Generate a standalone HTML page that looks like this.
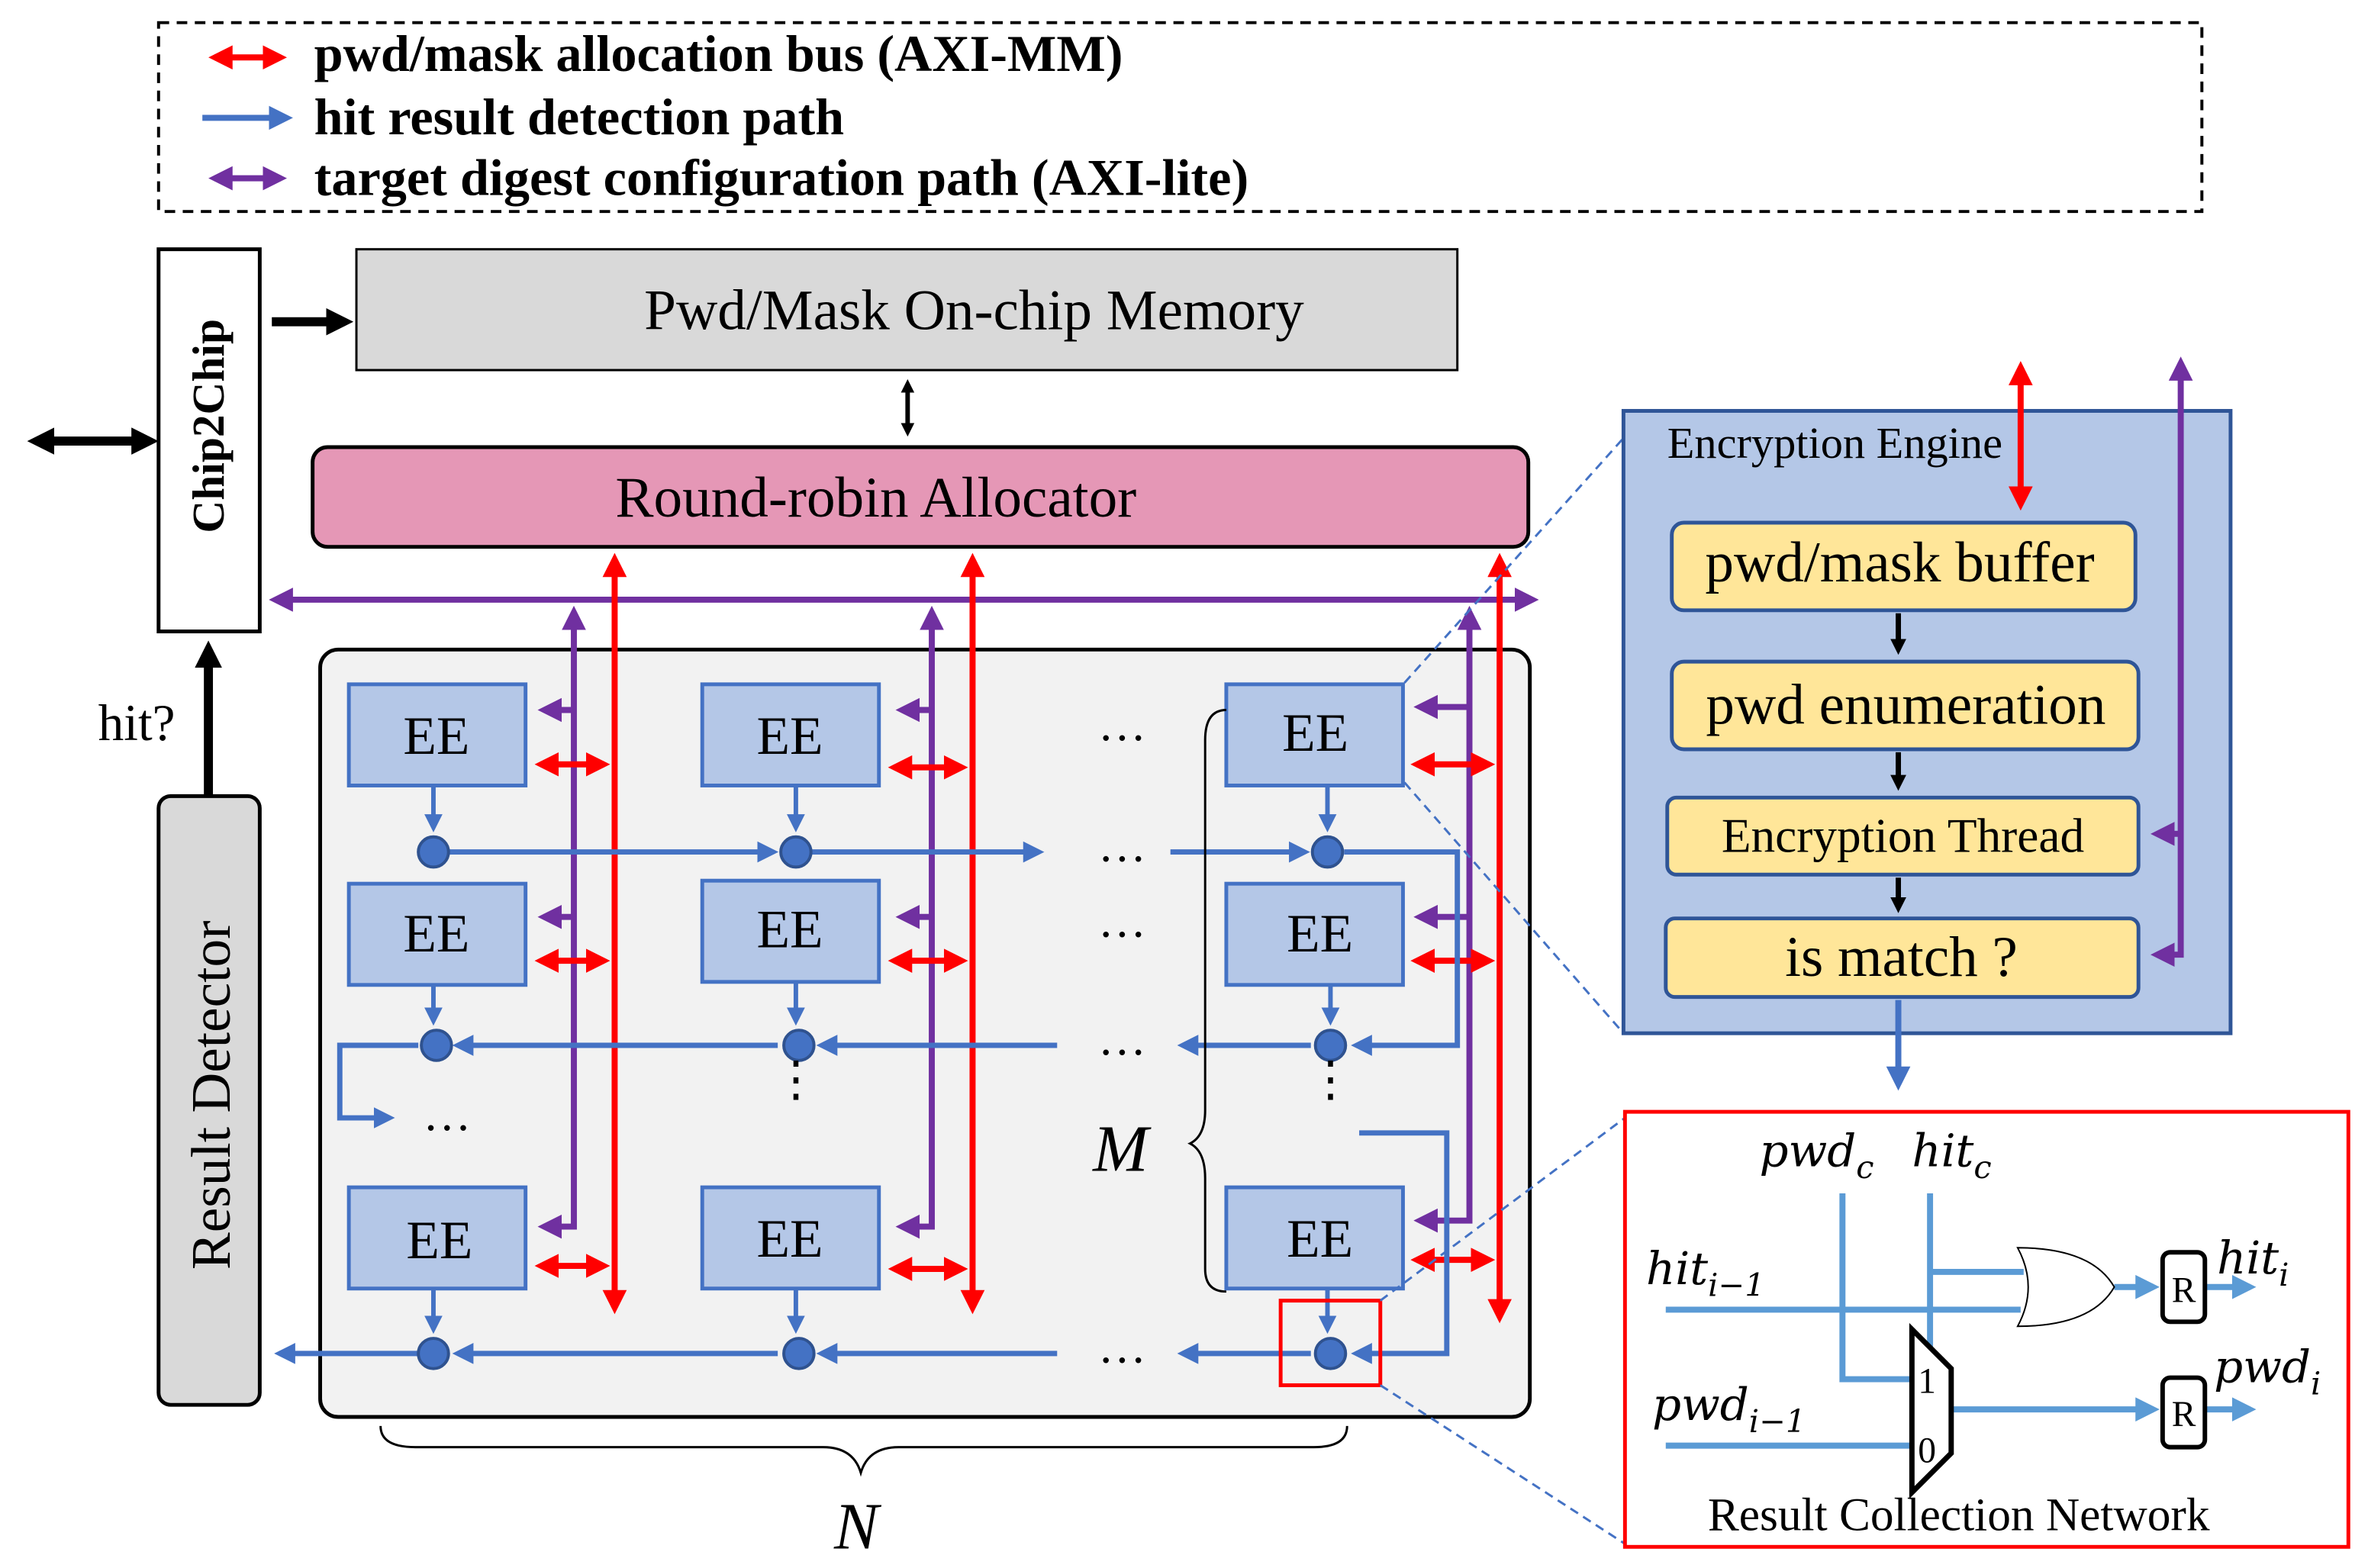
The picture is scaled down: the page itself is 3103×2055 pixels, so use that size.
<!DOCTYPE html>
<html><head><meta charset="utf-8"><style>html,body{margin:0;padding:0;background:#fff}svg{display:block}</style></head><body>
<svg width="3103" height="2055" viewBox="0 0 1568 1038" preserveAspectRatio="none" xmlns="http://www.w3.org/2000/svg" font-family="Liberation Serif, serif">
<defs>
<marker id="r" markerWidth="4" markerHeight="4" refX="3" refY="2" orient="auto-start-reverse" markerUnits="strokeWidth"><path d="M0,0L4,2L0,4z" fill="#f00"/></marker>
<marker id="b" markerWidth="4" markerHeight="4" refX="3" refY="2" orient="auto-start-reverse" markerUnits="strokeWidth"><path d="M0,0L4,2L0,4z" fill="#4472c4"/></marker>
<marker id="lb" markerWidth="4" markerHeight="4" refX="3" refY="2" orient="auto-start-reverse" markerUnits="strokeWidth"><path d="M0,0L4,2L0,4z" fill="#5b9bd5"/></marker>
<marker id="p" markerWidth="4" markerHeight="4" refX="3" refY="2" orient="auto-start-reverse" markerUnits="strokeWidth"><path d="M0,0L4,2L0,4z" fill="#7030a0"/></marker>
<marker id="k" markerWidth="3" markerHeight="3" refX="2" refY="1.5" orient="auto-start-reverse" markerUnits="strokeWidth"><path d="M0,0L3,1.5L0,3z" fill="#000"/></marker>
</defs>
<rect x="105" y="15" width="1353" height="125" fill="none" stroke="#000" stroke-width="2" stroke-dasharray="7,5"/>
<line x1="142" y1="38" x2="186" y2="38" stroke="#f00" stroke-width="4" marker-start="url(#r)" marker-end="url(#r)"/>
<line x1="134" y1="78" x2="190" y2="78" stroke="#4472c4" stroke-width="4" marker-end="url(#b)"/>
<line x1="142" y1="118" x2="186" y2="118" stroke="#7030a0" stroke-width="4" marker-start="url(#p)" marker-end="url(#p)"/>
<g font-weight="bold" font-size="34.5">
<text x="208" y="47">pwd/mask allocation bus (AXI-MM)</text>
<text x="208" y="89">hit result detection path</text>
<text x="208" y="129">target digest configuration path (AXI-lite)</text>
</g>
<rect x="105" y="165" width="67" height="253" fill="#fff" stroke="#000" stroke-width="2.5"/>
<text transform="translate(148,282) rotate(-90)" text-anchor="middle" font-size="30" font-weight="bold">Chip2Chip</text>
<line x1="24" y1="292" x2="99" y2="292" stroke="#000" stroke-width="6" marker-start="url(#k)" marker-end="url(#k)"/>
<line x1="180" y1="213" x2="228" y2="213" stroke="#000" stroke-width="6" marker-end="url(#k)"/>
<rect x="236" y="165" width="729" height="80" fill="#d9d9d9" stroke="#000" stroke-width="1.5"/>
<text x="645" y="218" text-anchor="middle" font-size="38">Pwd/Mask On-chip Memory</text>
<line x1="601" y1="254" x2="601" y2="286" stroke="#000" stroke-width="3" marker-start="url(#k)" marker-end="url(#k)"/>
<rect x="207" y="296" width="805" height="66" rx="10" fill="#e597b6" stroke="#000" stroke-width="2.5"/>
<text x="580" y="342" text-anchor="middle" font-size="38">Round-robin Allocator</text>
<rect x="105" y="527" width="67" height="403" rx="8" fill="#d9d9d9" stroke="#000" stroke-width="2.5"/>
<text transform="translate(152,725) rotate(-90)" text-anchor="middle" font-size="37">Result Detector</text>
<text x="65" y="490" font-size="34">hit?</text>
<line x1="138" y1="527" x2="138" y2="430" stroke="#000" stroke-width="6" marker-end="url(#k)"/>
<rect x="212" y="430" width="801" height="508" rx="12" fill="#f2f2f2" stroke="#000" stroke-width="2.5"/>
<line x1="182" y1="397" x2="1015" y2="397" stroke="#7030a0" stroke-width="4" marker-start="url(#p)" marker-end="url(#p)"/>
<g stroke="#7030a0" stroke-width="4" fill="none">
<path d="M380,405V812H360" marker-start="url(#p)" marker-end="url(#p)"/>
<path d="M617,405V812H597" marker-start="url(#p)" marker-end="url(#p)"/>
<path d="M973,405V808H940" marker-start="url(#p)" marker-end="url(#p)"/>
<line x1="380" y1="470" x2="360" y2="470" marker-end="url(#p)"/>
<line x1="380" y1="607" x2="360" y2="607" marker-end="url(#p)"/>
<line x1="617" y1="470" x2="597" y2="470" marker-end="url(#p)"/>
<line x1="617" y1="607" x2="597" y2="607" marker-end="url(#p)"/>
<line x1="973" y1="468" x2="940" y2="468" marker-end="url(#p)"/>
<line x1="973" y1="607" x2="940" y2="607" marker-end="url(#p)"/>
</g>
<g stroke="#f00" stroke-width="4" fill="none">
<line x1="407" y1="370" x2="407" y2="866" marker-start="url(#r)" marker-end="url(#r)"/>
<line x1="644" y1="370" x2="644" y2="866" marker-start="url(#r)" marker-end="url(#r)"/>
<line x1="993" y1="370" x2="993" y2="872" marker-start="url(#r)" marker-end="url(#r)"/>
<g marker-start="url(#r)" marker-end="url(#r)">
<line x1="358" y1="506" x2="400" y2="506"/><line x1="358" y1="636" x2="400" y2="636"/><line x1="358" y1="838" x2="400" y2="838"/>
<line x1="592" y1="508" x2="637" y2="508"/><line x1="592" y1="636" x2="637" y2="636"/><line x1="592" y1="840" x2="637" y2="840"/>
<line x1="938" y1="506" x2="986" y2="506"/><line x1="938" y1="636" x2="986" y2="636"/><line x1="938" y1="834" x2="986" y2="834"/>
</g></g>
<g stroke="#4472c4" stroke-width="3.5" fill="none">
<path d="M287,564H512" marker-end="url(#b)"/><path d="M527,564H688" marker-end="url(#b)"/>
<path d="M775,564H864" marker-end="url(#b)"/>
<path d="M890,564H965V692H898" marker-end="url(#b)"/>
<path d="M868,692H783" marker-end="url(#b)"/><path d="M700,692H544" marker-end="url(#b)"/><path d="M515,692H303" marker-end="url(#b)"/>
<path d="M277,692H225V740H258" marker-end="url(#b)"/>
<path d="M900,750H958V896H898" marker-end="url(#b)"/>
<path d="M868,896H783" marker-end="url(#b)"/><path d="M700,896H544" marker-end="url(#b)"/><path d="M515,896H303" marker-end="url(#b)"/>
<path d="M277,896H185" marker-end="url(#b)"/>
<g stroke-width="3">
<line x1="287" y1="520" x2="287" y2="548" marker-end="url(#b)"/>
<line x1="527" y1="520" x2="527" y2="548" marker-end="url(#b)"/>
<line x1="879" y1="520" x2="879" y2="548" marker-end="url(#b)"/>
<line x1="287" y1="652" x2="287" y2="676" marker-end="url(#b)"/>
<line x1="527" y1="650" x2="527" y2="676" marker-end="url(#b)"/>
<line x1="881" y1="652" x2="881" y2="676" marker-end="url(#b)"/>
<line x1="287" y1="853" x2="287" y2="880" marker-end="url(#b)"/>
<line x1="527" y1="853" x2="527" y2="880" marker-end="url(#b)"/>
<line x1="879" y1="853" x2="879" y2="880" marker-end="url(#b)"/>
</g>
</g>
<g fill="#4472c4" stroke="#2f528f" stroke-width="2">
<circle cx="287" cy="564" r="10"/><circle cx="527" cy="564" r="10"/><circle cx="879" cy="564" r="10"/>
<circle cx="289" cy="692" r="10"/><circle cx="529" cy="692" r="10"/><circle cx="881" cy="692" r="10"/>
<circle cx="287" cy="896" r="10"/><circle cx="529" cy="896" r="10"/><circle cx="881" cy="896" r="10"/>
</g>
<g fill="#b4c7e7" stroke="#4472c4" stroke-width="2.5">
<rect x="231" y="453" width="117" height="67"/><rect x="465" y="453" width="117" height="67"/><rect x="812" y="453" width="117" height="67"/>
<rect x="231" y="585" width="117" height="67"/><rect x="465" y="583" width="117" height="67"/><rect x="812" y="585" width="117" height="67"/>
<rect x="231" y="786" width="117" height="67"/><rect x="465" y="786" width="117" height="67"/><rect x="812" y="786" width="117" height="67"/>
</g>
<g font-size="36" text-anchor="middle">
<text x="289" y="499">EE</text><text x="523" y="499">EE</text><text x="871" y="497">EE</text>
<text x="289" y="630">EE</text><text x="523" y="627">EE</text><text x="874" y="630">EE</text>
<text x="291" y="833">EE</text><text x="523" y="832">EE</text><text x="874" y="832">EE</text>
</g>
<g font-size="32" text-anchor="middle">
<text x="743" y="490">…</text><text x="743" y="570">…</text><text x="743" y="620">…</text><text x="743" y="698">…</text>
<text x="296" y="748">…</text><text x="743" y="902">…</text>
<text x="527" y="725">⋮</text><text x="881" y="725">⋮</text>
</g>
<path d="M812,470Q798,470 798,490V735Q798,752 788,757Q798,762 798,780V840Q798,855 812,855" fill="none" stroke="#000" stroke-width="1.5"/>
<text x="742" y="775" text-anchor="middle" font-size="44" font-style="italic">M</text>
<path d="M252,944Q252,958 275,958H545Q565,958 570,975Q575,958 595,958H870Q892,958 892,944" fill="none" stroke="#000" stroke-width="1.5"/>
<text x="567" y="1025" text-anchor="middle" font-size="44" font-style="italic">N</text>
<rect x="848" y="861" width="66" height="56" fill="none" stroke="#f00" stroke-width="2.5"/>
<g stroke="#4472c4" stroke-width="1.5" stroke-dasharray="6,4">
<line x1="930" y1="452" x2="1075" y2="290"/><line x1="930" y1="518" x2="1075" y2="684"/>
<line x1="914" y1="861" x2="1076" y2="740"/><line x1="914" y1="917" x2="1076" y2="1022"/>
</g>
<rect x="1075" y="272" width="402" height="412" fill="#b4c7e7" stroke="#2f5597" stroke-width="2.5"/>
<text x="1104" y="303" font-size="29.5">Encryption Engine</text>
<g fill="#ffe699" stroke="#2f5597" stroke-width="2.5">
<rect x="1107" y="346" width="307" height="58" rx="8"/><rect x="1107" y="438" width="309" height="58" rx="8"/>
<rect x="1104" y="528" width="312" height="51" rx="6"/><rect x="1103" y="608" width="313" height="52" rx="6"/>
</g>
<g text-anchor="middle">
<text x="1258" y="385" font-size="38">pwd/mask buffer</text>
<text x="1262" y="479" font-size="38">pwd enumeration</text>
<text x="1260" y="564" font-size="32">Encryption Thread</text>
<text x="1259" y="646" font-size="38">is match ?</text>
</g>
<g stroke="#000" stroke-width="3.5">
<line x1="1257" y1="406" x2="1257" y2="430" marker-end="url(#k)"/>
<line x1="1257" y1="498" x2="1257" y2="520" marker-end="url(#k)"/>
<line x1="1257" y1="581" x2="1257" y2="601" marker-end="url(#k)"/>
</g>
<line x1="1338" y1="243" x2="1338" y2="334" stroke="#f00" stroke-width="4" marker-start="url(#r)" marker-end="url(#r)"/>
<g stroke="#7030a0" stroke-width="4" fill="none">
<path d="M1444,240V632H1428" marker-start="url(#p)" marker-end="url(#p)"/>
<line x1="1444" y1="552" x2="1428" y2="552" marker-end="url(#p)"/>
</g>
<line x1="1257" y1="662" x2="1257" y2="718" stroke="#4472c4" stroke-width="4" marker-end="url(#b)"/>
<rect x="1076" y="736" width="479" height="288" fill="#fff" stroke="#f00" stroke-width="2.5"/>
<g font-family="DejaVu Serif, serif" font-style="italic" font-size="30">
<text x="1165" y="772">pwd<tspan font-size="21" dy="8">c</tspan></text>
<text x="1266" y="772">hit<tspan font-size="21" dy="8">c</tspan></text>
<text x="1090" y="850">hit<tspan font-size="21" dy="8">i−1</tspan></text>
<text x="1094" y="940">pwd<tspan font-size="21" dy="8">i−1</tspan></text>
<text x="1468" y="843">hit<tspan font-size="21" dy="8">i</tspan></text>
<text x="1466" y="915">pwd<tspan font-size="21" dy="8">i</tspan></text>
</g>
<g stroke="#5b9bd5" stroke-width="4" fill="none">
<path d="M1103,867H1338"/><path d="M1220,790V913H1265"/><path d="M1278,790V900"/><path d="M1278,842H1340"/>
<path d="M1103,957H1265"/>
<path d="M1400,852H1426" marker-end="url(#lb)"/><path d="M1460,852H1490" marker-end="url(#lb)"/>
<path d="M1293,933H1426" marker-end="url(#lb)"/><path d="M1460,933H1490" marker-end="url(#lb)"/>
</g>
<path d="M1336,826Q1350,852 1336,878Q1385,878 1400,852Q1385,826 1336,826z" fill="#fff" stroke="#000" stroke-width="1"/>
<path d="M1266,880L1292,906V962L1266,988z" fill="#fff" stroke="#000" stroke-width="3.5"/>
<text x="1270" y="922" font-size="24">1</text><text x="1270" y="968" font-size="24">0</text>
<rect x="1432" y="829" width="28" height="46" rx="5" fill="#fff" stroke="#000" stroke-width="3"/>
<rect x="1432" y="912" width="28" height="46" rx="5" fill="#fff" stroke="#000" stroke-width="3"/>
<text x="1446" y="862" text-anchor="middle" font-size="24">R</text><text x="1446" y="944" text-anchor="middle" font-size="24">R</text>
<text x="1297" y="1013" text-anchor="middle" font-size="31">Result Collection Network</text>
</svg>
</body></html>
